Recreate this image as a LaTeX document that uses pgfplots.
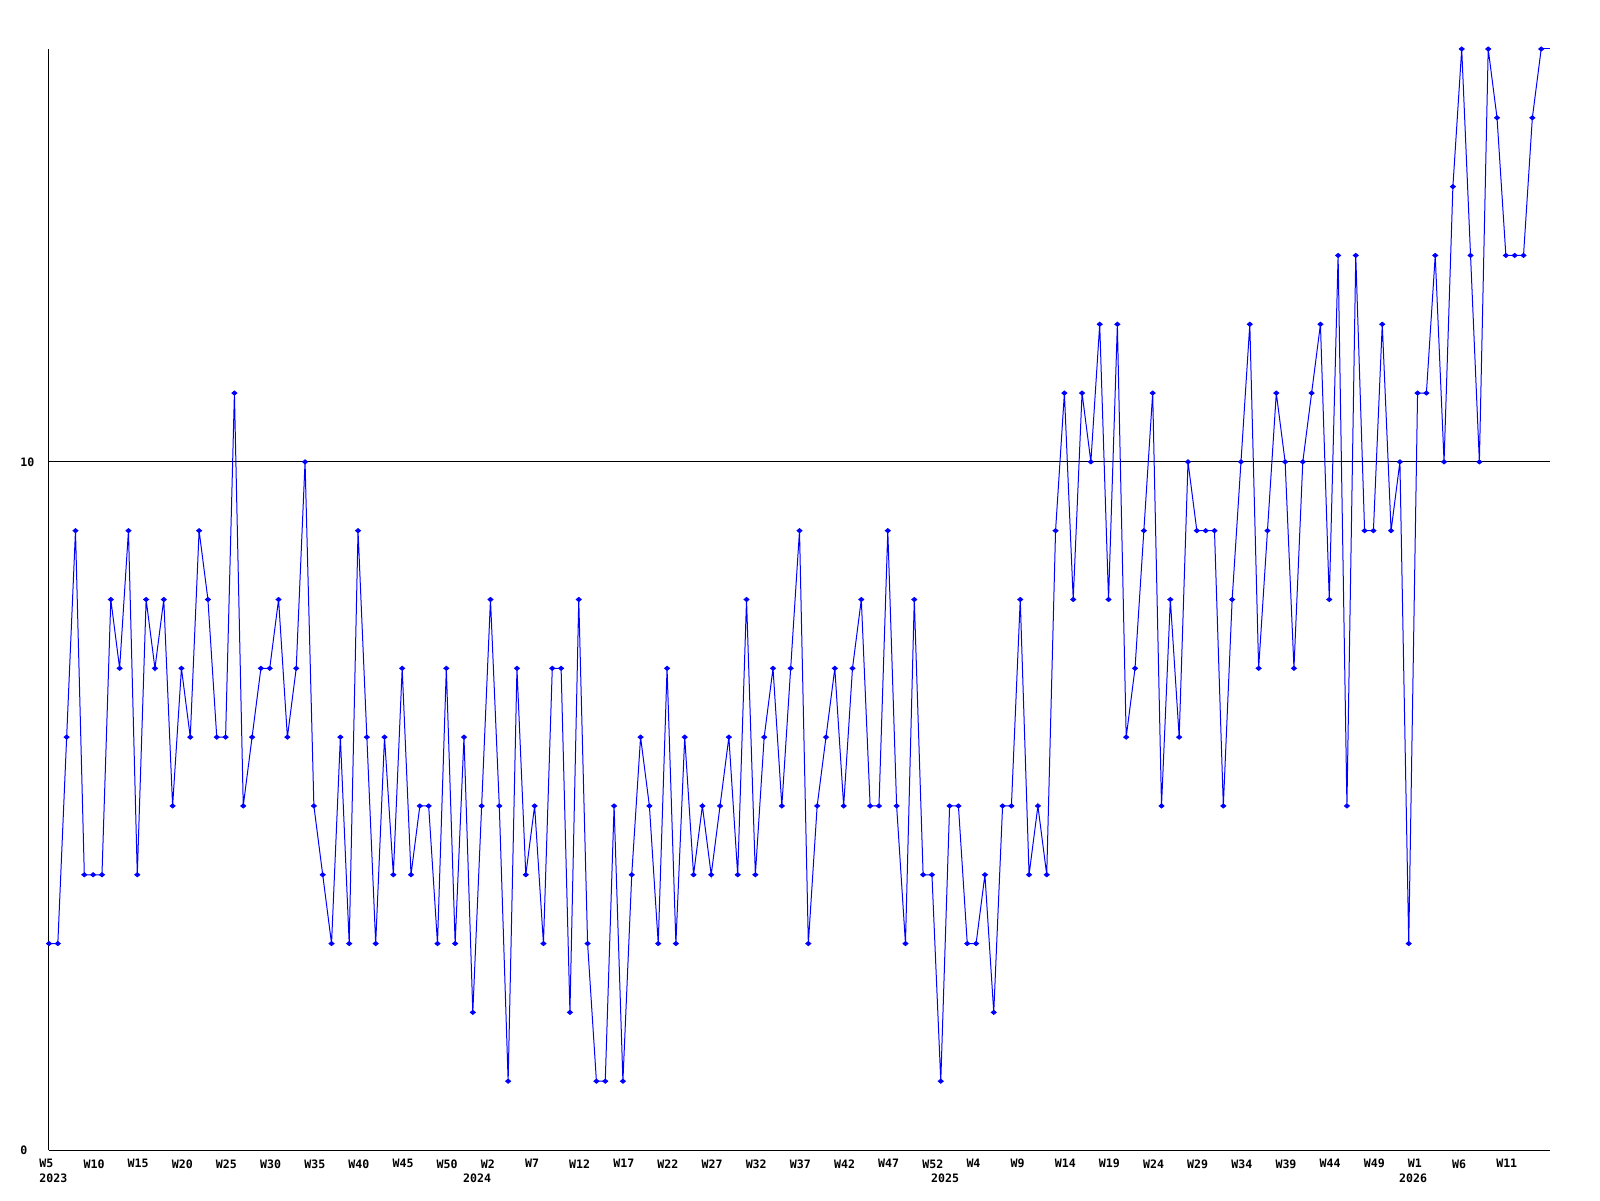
\documentclass[border=0pt]{standalone}
\usepackage{fontspec}
\usepackage{pgfplots}
\usepackage{pgfplotstable}
\pgfplotsset{compat=1.18}
\newfontfamily\lab{DejaVu Sans Mono}

% weekly counts, index 0 = W5 2023
\pgfplotstableread{
wk cnt
0 3
1 3
2 6
3 9
4 4
5 4
6 4
7 8
8 7
9 9
10 4
11 8
12 7
13 8
14 5
15 7
16 6
17 9
18 8
19 6
20 6
21 11
22 5
23 6
24 7
25 7
26 8
27 6
28 7
29 10
30 5
31 4
32 3
33 6
34 3
35 9
36 6
37 3
38 6
39 4
40 7
41 4
42 5
43 5
44 3
45 7
46 3
47 6
48 2
49 5
50 8
51 5
52 1
53 7
54 4
55 5
56 3
57 7
58 7
59 2
60 8
61 3
62 1
63 1
64 5
65 1
66 4
67 6
68 5
69 3
70 7
71 3
72 6
73 4
74 5
75 4
76 5
77 6
78 4
79 8
80 4
81 6
82 7
83 5
84 7
85 9
86 3
87 5
88 6
89 7
90 5
91 7
92 8
93 5
94 5
95 9
96 5
97 3
98 8
99 4
100 4
101 1
102 5
103 5
104 3
105 3
106 4
107 2
108 5
109 5
110 8
111 4
112 5
113 4
114 9
115 11
116 8
117 11
118 10
119 12
120 8
121 12
122 6
123 7
124 9
125 11
126 5
127 8
128 6
129 10
130 9
131 9
132 9
133 5
134 8
135 10
136 12
137 7
138 9
139 11
140 10
141 7
142 10
143 11
144 12
145 8
146 13
147 5
148 13
149 9
150 9
151 12
152 9
153 10
154 3
155 11
156 11
157 13
158 10
159 14
160 16
161 13
162 10
163 16
164 15
165 13
166 13
167 13
168 15
169 16
}\weekly

\begin{document}
\begin{tikzpicture}
\path[use as bounding box] (-24.5pt,-25pt) rectangle (775.5pt,575pt);
\begin{axis}[
    at={(0,0)}, anchor=south west,
    scale only axis,
    width=750.5pt, height=550.5pt,
    xmin=0, xmax=170,
    ymin=0, ymax=16,
    axis lines=left,
    axis line style={-, line width=0.5pt, black},
    major tick length=0pt,
    clip=false,
    xtick={0,5,...,165},
    xticklabels={W5,W10,W15,W20,W25,W30,W35,W40,W45,W50,
                 W2,W7,W12,W17,W22,W27,W32,W37,W42,W47,W52,
                 W4,W9,W14,W19,W24,W29,W34,W39,W44,W49,
                 W1,W6,W11},
    ytick={0,10},
    yticklabels={0,10},
    ymajorgrids,
    grid style={black, line width=0.5pt},
    ticklabel style={font=\lab\bfseries\fontsize{5.8}{6}\selectfont, inner sep=0pt},
    xticklabel style={anchor=north west, xshift=-5pt, yshift=-4.5pt},
    yticklabel style={anchor=west, xshift=-14.5pt},
]
\addplot[blue, line width=0.5pt, mark=diamond*, mark size=1pt,
    mark options={xscale=1.6}] table[x=wk, y=cnt] {\weekly};
\addplot[blue, line width=0.5pt, no marks] coordinates {(169,16) (170,16)};
\foreach \yr/\pos in {2023/0, 2024/48, 2025/101, 2026/154} {
    \edef\tmp{\noexpand\node[anchor=north west, inner sep=0pt,
        font=\noexpand\lab\noexpand\bfseries\noexpand\fontsize{5.8}{6}\noexpand\selectfont,
        xshift=-5pt, yshift=-11.5pt] at (axis cs:\pos,0) {\yr};}
    \tmp
}
\end{axis}
\end{tikzpicture}
\end{document}
